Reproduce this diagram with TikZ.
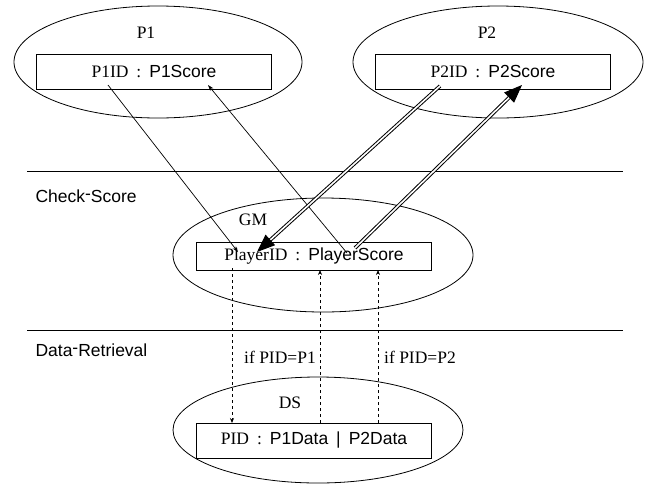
\documentclass[tikz,border=0pt]{standalone}
\usepackage{fontspec}
\setmainfont{Liberation Serif}
\setsansfont{Liberation Sans}
\usetikzlibrary{arrows.meta,shapes.geometric}
\newcommand{\fsep}[1]{\hspace{8pt}#1\hspace{8pt}}

\begin{document}
\begin{tikzpicture}[x=1pt,y=-1pt,font=\fontsize{17.5}{20}\selectfont,
	region/.style={draw,ellipse,line width=0.8pt,inner sep=0pt},
	field/.style={draw,rectangle,line width=0.8pt,inner sep=0pt,minimum width=235pt},
	msg/.style={line width=0.7pt,-{Stealth[length=6pt,width=4pt]}},
	bigmsg/.style={double,double distance=1.6pt,line width=1pt,-{Triangle[length=18pt,width=14pt]}},
	lookup/.style={dashed,line width=0.7pt,-{Stealth[length=5pt,width=4pt]}}]
					\useasboundingbox (0,0) rectangle (646,483);
					\node[region,minimum width=288pt,minimum height=112pt] (p1) at (158,62) {};
					\node[region,minimum width=290pt,minimum height=112pt] (p2) at (498,62) {};
					\node[region,minimum width=300pt,minimum height=114pt] (gm) at (323,255) {};
					\node[region,minimum width=290pt,minimum height=106pt] (ds) at (318,430) {};
					\node (p1lbl) at (146,33) {P1};
					\node (p2lbl) at (487,33) {P2};
					\node (gmlbl) at (253,220) {GM};
					\node (dslbl) at (290,403) {DS};
					\node[field,minimum height=35pt] (p1box) at (154,71.5) {P1ID\fsep{:}\textsf{P1Score}};
					\node[field,minimum height=35pt] (p2box) at (493,71.5) {P2ID\fsep{:}\textsf{P2Score}};
					\node[field,minimum height=28pt] (gmbox) at (314,256) {PlayerID\fsep{:}\textsf{PlayerScore}};
					\node[field,minimum height=35pt] (dsbox) at (314,440.5) {PID\fsep{:}\textsf{P1Data\fsep{|}P2Data}};
					\draw[line width=0.8pt] (27,171) -- (623,171);
					\draw[line width=0.8pt] (27,330) -- (623,330);
					\node[anchor=west,font=\fontsize{17.5}{20}\sffamily] (chk) at (32,196) {Check\raisebox{3pt}{-}Score};
					\node[anchor=west,font=\fontsize{17.5}{20}\sffamily] (ret) at (32,350) {Data\raisebox{3pt}{-}Retrieval};
					\coordinate (p1id) at (108,85);
					\coordinate (p1sc) at (208,85);
					\coordinate (p2id) at (440,86);
					\coordinate (p2sc) at (522,85);
					\coordinate (gmid) at (238,252);
					\coordinate (gmid2) at (257,252);
					\coordinate (gmsc) at (347,253);
					\coordinate (gmsc2) at (355,248);
					\draw[msg] (p1id) -- (gmid);
					\draw[msg] (gmsc) -- (p1sc);
					\draw[bigmsg] (p2id) -- (gmid2);
					\draw[bigmsg] (gmsc2) -- (p2sc);
					\draw[lookup] (232,268) -- (232,423);
					\draw[lookup] (320,423) -- (320,270);
					\draw[lookup] (378,423) -- (378,270);
					\node (if1) at (280,357) {if PID=P1};
					\node (if2) at (420,357) {if PID=P2};
				\end{tikzpicture}
\end{document}
